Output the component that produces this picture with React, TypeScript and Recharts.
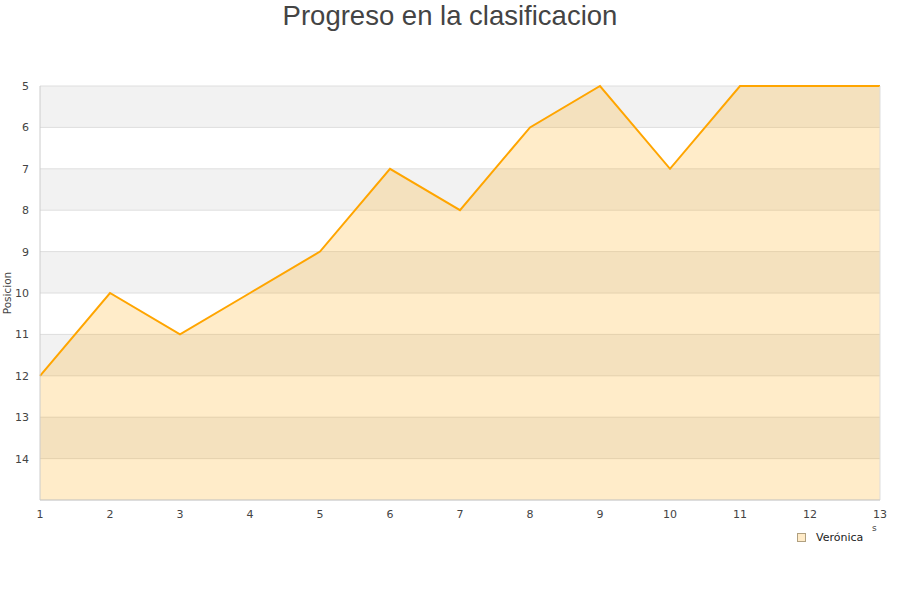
import { AreaChart, Area, XAxis, YAxis, CartesianGrid, ReferenceLine } from "recharts";

const JORNADAS = [1, 2, 3, 4, 5, 6, 7, 8, 9, 10, 11, 12, 13];
const POSICIONES = [12, 10, 11, 10, 9, 7, 8, 6, 5, 7, 5, 5, 5];
const Y_TICKS = [5, 6, 7, 8, 9, 10, 11, 12, 13, 14];
const SERIES_NAME = "Verónica";
const TITLE = "Progreso en la clasificacion";

const LINE_COLOR = "#ffa500";
const TEXT_COLOR = "#444444";

const data = JORNADAS.map((j, i) => ({ jornada: j, posicion: POSICIONES[i] }));

export default function App() {
  return (
    <div style={{ position: "absolute", left: 0, top: 0, width: 900, height: 600, background: "#fff", fontFamily: "'DejaVu Sans', sans-serif" }}>
      <div
        style={{
          position: "absolute", left: 0, top: 0, width: 900, textAlign: "center",
          fontFamily: "'Liberation Sans', Arial, sans-serif", fontSize: 27.5, color: TEXT_COLOR, lineHeight: "32px",
        }}
      >
        {TITLE}
      </div>

      <AreaChart width={900} height={600} data={data} margin={{ top: 86, right: 20, left: 0, bottom: 70 }}>
        <CartesianGrid vertical={false} stroke="#dedede" horizontalFill={["#f2f2f2", "#ffffff"]} fillOpacity={1} />
        <XAxis
          dataKey="jornada"
          type="number"
          domain={[1, 13]}
          ticks={JORNADAS}
          tickLine={false}
          axisLine={{ stroke: "#cccccc" }}
          height={30}
          tick={{ fontSize: 11, fill: TEXT_COLOR }}
          tickMargin={4}
          interval={0}
        />
        <YAxis
          reversed
          type="number"
          domain={[5, 15]}
          ticks={Y_TICKS}
          tickLine={false}
          axisLine={{ stroke: "#cccccc" }}
          width={40}
          tick={{ fontSize: 11, fill: TEXT_COLOR }}
          tickMargin={5}
          interval={0}
          label={{ value: "Posicion", angle: -90, position: "insideLeft", offset: 7, style: { fontSize: 10.5, fill: TEXT_COLOR, textAnchor: "middle" } }}
        />
        <ReferenceLine x={13} stroke="#dddddd" />
        <Area
          type="linear"
          dataKey="posicion"
          name={SERIES_NAME}
          stroke={LINE_COLOR}
          strokeWidth={2}
          fill={LINE_COLOR}
          fillOpacity={0.21}
          baseValue="dataMax"
          dot={false}
          activeDot={false}
          isAnimationActive={false}
        />
      </AreaChart>

      <div style={{ position: "absolute", left: 872, top: 523, fontSize: 9, color: TEXT_COLOR }}>s</div>

      <div style={{ position: "absolute", left: 797, top: 531, display: "flex", alignItems: "center", fontSize: 11, color: "#222" }}>
        <span style={{ display: "inline-block", width: 7, height: 7, background: "#ffebc8", border: "1px solid #b0a080", marginRight: 10 }} />
        <span>{SERIES_NAME}</span>
      </div>
    </div>
  );
}
